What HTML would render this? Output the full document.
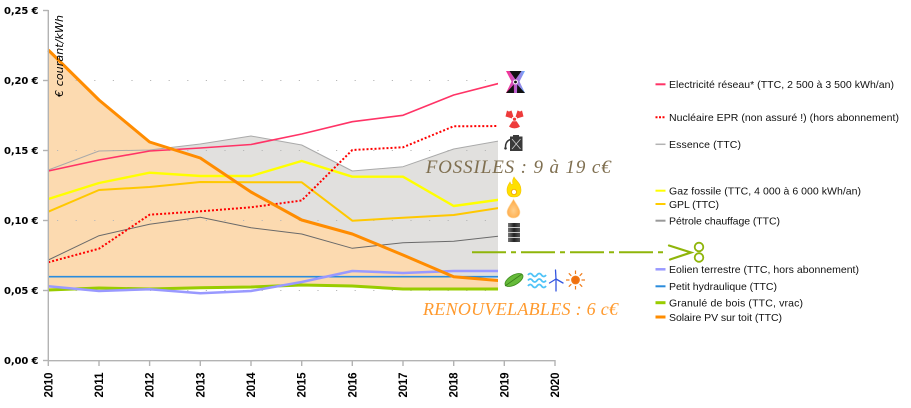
<!DOCTYPE html>
<html><head><meta charset="utf-8"><style>
html,body{margin:0;padding:0;background:#fff;}
svg{display:block;}
</style></head><body>
<svg width="911" height="408" viewBox="0 0 911 408" xmlns="http://www.w3.org/2000/svg">
<defs>
<clipPath id="pc"><rect x="40" y="0" width="458" height="370"/></clipPath>
<linearGradient id="pb" x1="0" x2="1" y1="0" y2="0"><stop offset="0" stop-color="#ff2a8a"/><stop offset="0.5" stop-color="#c060d0"/><stop offset="1" stop-color="#6ab0ff"/></linearGradient>
<radialGradient id="drop" cx="0.5" cy="0.6" r="0.6"><stop offset="0" stop-color="#ffcf8a"/><stop offset="1" stop-color="#ffa640"/></radialGradient>
<linearGradient id="bar" x1="0" x2="1"><stop offset="0" stop-color="#777"/><stop offset="0.5" stop-color="#222"/><stop offset="1" stop-color="#555"/></linearGradient>
</defs>
<rect width="911" height="408" fill="#fff"/>

<g clip-path="url(#pc)">
<polygon fill="#e1e0de" points="48.3,170 99,151 149.6,150 200.3,144 251,136 301.7,145 352.3,171 403,166.7 453.7,149 504.3,140 504.3,289 453.7,289 403,289 352.3,286 301.7,285 251,287 200.3,287.7 149.6,289 99,288 48.3,290"/>
<polygon fill="#fcdab0" points="48.3,50 99,100 149.6,142 200.3,158 251,192 301.7,220 352.3,234 403,255 453.7,276.7 504.3,281 504.3,289 453.7,289 403,289 352.3,286 301.7,285 251,287 200.3,287.7 149.6,289 99,288 48.3,290"/>
<g stroke="#b8b8b8" stroke-width="1" stroke-dasharray="1.2 17.4">
<line x1="57" y1="80.5" x2="498" y2="80.5"/>
<line x1="57" y1="150.5" x2="498" y2="150.5"/>
<line x1="57" y1="220.5" x2="498" y2="220.5"/>
<line x1="57" y1="290.5" x2="498" y2="290.5"/>
</g>
<g fill="none" stroke-linejoin="round">
<polyline stroke="#aaaaaa" stroke-width="1" points="48.3,170 99,151 149.6,150 200.3,144 251,136 301.7,145 352.3,171 403,166.7 453.7,149 504.3,140"/>
<polyline stroke="#6a6a6a" stroke-width="1" points="48.3,260 99,235.7 149.6,224.3 200.3,217.3 251,227.7 301.7,234 352.3,248.3 403,242.7 453.7,241.3 504.3,235.5"/>
<polyline stroke="#2a8cdc" stroke-width="1.6" points="48.3,276.7 504.3,276.7"/>
<polyline stroke="#99cc00" stroke-width="3" points="48.3,290 99,288 149.6,289 200.3,287.7 251,287 301.7,285 352.3,286 403,289 453.7,289 504.3,289"/>
<polyline stroke="#9999ff" stroke-width="2.5" points="48.3,286.3 99,291 149.6,289.3 200.3,293.3 251,291 301.7,282 352.3,271 403,273 453.7,271 504.3,271"/>
<polyline stroke="#ffc800" stroke-width="2" points="48.3,211.7 99,190 149.6,187 200.3,182 251,182.3 301.7,182.3 352.3,220.7 403,217.7 453.7,215 504.3,207.2"/>
<polyline stroke="#ffff00" stroke-width="2.4" points="48.3,199 99,183 149.6,172.7 200.3,176 251,176 301.7,161 352.3,176.7 403,176.7 453.7,206 504.3,199"/>
<polyline stroke="#ff0000" stroke-width="2" stroke-dasharray="2 2" points="48.3,262.3 99,248.7 149.6,214.7 200.3,211.3 251,207.3 301.7,200.5 352.3,150 403,147.3 453.7,126.3 504.3,126"/>
<polyline stroke="#ff3366" stroke-width="1.6" points="48.3,171 99,160 149.6,151 200.3,148 251,144.5 301.7,134 352.3,121.7 403,115.3 453.7,95 504.3,82"/>
<polyline stroke="#ff8c00" stroke-width="3" points="48.3,50 99,100 149.6,142 200.3,158 251,192 301.7,220 352.3,234 403,255 453.7,276.7 504.3,281"/>
</g>
</g>

<g stroke="#b3b3b3" stroke-width="1.4">
<line x1="48.3" y1="10" x2="48.3" y2="361"/>
<line x1="48.3" y1="360.7" x2="555.5" y2="360.7"/>
<line x1="43" y1="10.5" x2="48.3" y2="10.5"/>
<line x1="43" y1="80.5" x2="48.3" y2="80.5"/>
<line x1="43" y1="150.5" x2="48.3" y2="150.5"/>
<line x1="43" y1="220.5" x2="48.3" y2="220.5"/>
<line x1="43" y1="290.5" x2="48.3" y2="290.5"/>
<line x1="43" y1="360.5" x2="48.3" y2="360.5"/>
<line x1="48.3" y1="360" x2="48.3" y2="366"/>
<line x1="99" y1="360" x2="99" y2="366"/>
<line x1="149.6" y1="360" x2="149.6" y2="366"/>
<line x1="200.3" y1="360" x2="200.3" y2="366"/>
<line x1="251" y1="360" x2="251" y2="366"/>
<line x1="301.7" y1="360" x2="301.7" y2="366"/>
<line x1="352.3" y1="360" x2="352.3" y2="366"/>
<line x1="403" y1="360" x2="403" y2="366"/>
<line x1="453.7" y1="360" x2="453.7" y2="366"/>
<line x1="504.3" y1="360" x2="504.3" y2="366"/>
<line x1="555" y1="360" x2="555" y2="366"/>
</g>

<g font-family="'DejaVu Sans', 'Liberation Sans', sans-serif" font-weight="bold" font-size="10" fill="#000" text-anchor="end">
<text x="38.5" y="14.1" textLength="34.5">0,25 €</text>
<text x="38.5" y="84.1" textLength="34.5">0,20 €</text>
<text x="38.5" y="154.1" textLength="34.5">0,15 €</text>
<text x="38.5" y="224.1" textLength="34.5">0,10 €</text>
<text x="38.5" y="294.1" textLength="34.5">0,05 €</text>
<text x="38.5" y="364.1" textLength="34.5">0,00 €</text>
</g>
<g font-family="'Liberation Sans', sans-serif" font-weight="bold" font-size="11.5" fill="#000" text-anchor="end">
<text transform="translate(52.3,372.5) rotate(-90)" textLength="25">2010</text>
<text transform="translate(103,372.5) rotate(-90)" textLength="25">2011</text>
<text transform="translate(153.6,372.5) rotate(-90)" textLength="25">2012</text>
<text transform="translate(204.3,372.5) rotate(-90)" textLength="25">2013</text>
<text transform="translate(255,372.5) rotate(-90)" textLength="25">2014</text>
<text transform="translate(305.7,372.5) rotate(-90)" textLength="25">2015</text>
<text transform="translate(356.3,372.5) rotate(-90)" textLength="25">2016</text>
<text transform="translate(407,372.5) rotate(-90)" textLength="25">2017</text>
<text transform="translate(457.7,372.5) rotate(-90)" textLength="25">2018</text>
<text transform="translate(508.3,372.5) rotate(-90)" textLength="25">2019</text>
<text transform="translate(559,372.5) rotate(-90)" textLength="25">2020</text>
</g>
<text transform="translate(62.8,56) rotate(-90)" font-family="'DejaVu Sans', 'Liberation Sans', sans-serif" font-style="italic" font-size="11" fill="#000" text-anchor="middle" textLength="82">€ courant/kWh</text>

<text x="425.7" y="173" font-family="'Liberation Serif', serif" font-style="italic" font-size="19" fill="#7f6f50" textLength="185">FOSSILES : 9 à 19 c€</text>
<text x="423" y="315" font-family="'Liberation Serif', serif" font-style="italic" font-size="18" fill="#ff9a2e" textLength="195">RENOUVELABLES : 6 c€</text>

<line x1="472" y1="252.3" x2="664" y2="252.3" stroke="#8fb50a" stroke-width="2" stroke-dasharray="34 5 5 5"/>
<g stroke="#8fb50a" fill="none" stroke-width="2.2" stroke-linecap="round">
<path d="M669,245.5 L691,252.5 L670,259.5"/>
<circle cx="699" cy="247" r="4.3" stroke-width="1.8"/>
<circle cx="699" cy="257.5" r="4.3" stroke-width="1.8"/>
</g>

<g>
<path d="M506,71 L525,71 L519.5,81.5 L525,93 L506,93 L511.5,81.5 Z" fill="url(#pb)"/>
<path d="M509.5,71 L521.5,71 L515.5,79.5 Z" fill="#111"/>
<path d="M506,93 L514,93 L513.8,84.5 Z" fill="#111"/>
<path d="M517.2,84.5 L525,93 L517,93 Z" fill="#111"/>
<circle cx="515.5" cy="82" r="2.4" fill="#fff"/>
<circle cx="515.5" cy="82" r="1.4" fill="#111"/>
</g>
<g fill="#ee3b3b">
<path d="M512.4,117.2 L506.6,113.9 A9,9 0 0 1 511.5,110.5 L513.4,116.6 Z"/>
<path d="M516.6,117.2 L522.4,113.9 A9,9 0 0 0 517.5,110.5 L515.6,116.6 Z"/>
<path d="M511.5,113 L507,110.5 L505.5,116.5 L512.2,118.5 Z"/>
<path d="M517.5,113 L522,110.5 L523.5,116.5 L516.8,118.5 Z"/>
<path d="M512.4,121.3 L509,126.5 A9,9 0 0 0 520,126.5 L516.6,121.3 Z"/>
<circle cx="514.5" cy="119.2" r="1.6"/>
</g>
<g>
<rect x="510" y="136.5" width="12.5" height="14.5" fill="#3a3a3a"/>
<rect x="513" y="135" width="6" height="2" fill="#3a3a3a"/>
<path d="M512,139 L520.5,149 M520.5,139 L512,149" stroke="#cfcfcf" stroke-width="0.8"/>
<path d="M510.5,139.5 Q505.5,141 505.5,147" stroke="#333" stroke-width="1.5" fill="none"/>
<circle cx="505.5" cy="148.3" r="1.3" fill="#333"/>
</g>
<g>
<path d="M514,177 C516,181 521,183 521,190 C521,195 518,197 514,197 C510,197 507,195 507,190 C507,186 509,184 510,182 C511,185 512,185 513,184 C512,181 513,179 514,177 Z" fill="#ffe000" stroke="#f5c400" stroke-width="0.6"/>
<circle cx="514" cy="192" r="2.6" fill="#fff" stroke="#f0a000" stroke-width="0.8"/>
</g>
<path d="M513.5,199 C516,204 520,208 520,212 C520,216 517,218 513.5,218 C510,218 507,216 507,212 C507,208 511,204 513.5,199 Z" fill="url(#drop)" stroke="#ffe0b0" stroke-width="0.6"/>
<g>
<rect x="508" y="223" width="12" height="19" fill="url(#bar)"/>
<g stroke="#c8c8c8" stroke-width="1"><line x1="508" y1="227.5" x2="520" y2="227.5"/><line x1="508" y1="232.5" x2="520" y2="232.5"/><line x1="508" y1="237.5" x2="520" y2="237.5"/></g>
</g>
<g>
<ellipse cx="514" cy="280" rx="10" ry="4.8" transform="rotate(-30 514 280)" fill="#66bb3a" stroke="#3d8c1e" stroke-width="0.8"/>
<line x1="505" y1="286" x2="522" y2="274" stroke="#3a7d1a" stroke-width="0.8"/>
</g>
<g fill="none" stroke="#4fc3f7" stroke-width="1.8">
<path d="M528,275 q2.25,-3 4.5,0 t4.5,0 t4.5,0 t4.5,0"/>
<path d="M528,280.5 q2.25,-3 4.5,0 t4.5,0 t4.5,0 t4.5,0"/>
<path d="M528,286 q2.25,-3 4.5,0 t4.5,0 t4.5,0 t4.5,0"/>
</g>
<g stroke="#3355e0" stroke-width="1.3" fill="none" stroke-linecap="round">
<line x1="556" y1="279" x2="556" y2="291"/>
<line x1="556" y1="279" x2="555.5" y2="270"/>
<line x1="556" y1="279" x2="549.5" y2="283"/>
<line x1="556" y1="279" x2="563" y2="283"/>
</g>
<g stroke="#f07a18" stroke-width="1.2">
<circle cx="575.5" cy="280" r="3.8" fill="#f07010"/>
<line x1="575.5" y1="274" x2="575.5" y2="270.5"/><line x1="575.5" y1="286" x2="575.5" y2="289.5"/>
<line x1="569.5" y1="280" x2="566" y2="280"/><line x1="581.5" y1="280" x2="585" y2="280"/>
<line x1="571.3" y1="275.8" x2="568.8" y2="273.3"/><line x1="579.7" y1="284.2" x2="582.2" y2="286.7"/>
<line x1="579.7" y1="275.8" x2="582.2" y2="273.3"/><line x1="571.3" y1="284.2" x2="568.8" y2="286.7"/>
</g>

<g stroke-width="2">
<line x1="655.5" y1="84.3" x2="665.5" y2="84.3" stroke="#ff3366"/>
<line x1="655.5" y1="117.3" x2="665.5" y2="117.3" stroke="#ff0000" stroke-dasharray="2 1.5"/>
<line x1="655.5" y1="144.3" x2="665.5" y2="144.3" stroke="#b3b3b3" stroke-width="1.5"/>
<line x1="655.5" y1="190.7" x2="665.5" y2="190.7" stroke="#ffff00"/>
<line x1="655.5" y1="204" x2="665.5" y2="204" stroke="#ffcc00"/>
<line x1="655.5" y1="220.7" x2="665.5" y2="220.7" stroke="#999999"/>
<line x1="655.5" y1="269.3" x2="665.5" y2="269.3" stroke="#9999ff" stroke-width="2.5"/>
<line x1="655.5" y1="286.3" x2="665.5" y2="286.3" stroke="#2a8cdc"/>
<line x1="655.5" y1="302.7" x2="665.5" y2="302.7" stroke="#99cc00" stroke-width="3"/>
<line x1="655.5" y1="317" x2="665.5" y2="317" stroke="#ff8c00" stroke-width="3"/>
</g>
<g font-family="'Liberation Sans', sans-serif" font-size="10.5" fill="#111">
<text x="669" y="88.1" textLength="225">Electricité réseau* (TTC, 2 500 à 3 500 kWh/an)</text>
<text x="669" y="121.1" textLength="230">Nucléaire EPR (non assuré !) (hors abonnement)</text>
<text x="669" y="148.1" textLength="72">Essence (TTC)</text>
<text x="669" y="194.5" textLength="192">Gaz fossile (TTC, 4 000 à 6 000 kWh/an)</text>
<text x="669" y="207.8" textLength="50">GPL (TTC)</text>
<text x="669" y="224.5" textLength="111">Pétrole chauffage (TTC)</text>
<text x="669" y="273.1" textLength="190">Eolien terrestre (TTC, hors abonnement)</text>
<text x="669" y="290.1" textLength="108">Petit hydraulique (TTC)</text>
<text x="669" y="306.5" textLength="134">Granulé de bois (TTC, vrac)</text>
<text x="669" y="320.8" textLength="113">Solaire PV sur toit (TTC)</text>
</g>
</svg>
</body></html>
